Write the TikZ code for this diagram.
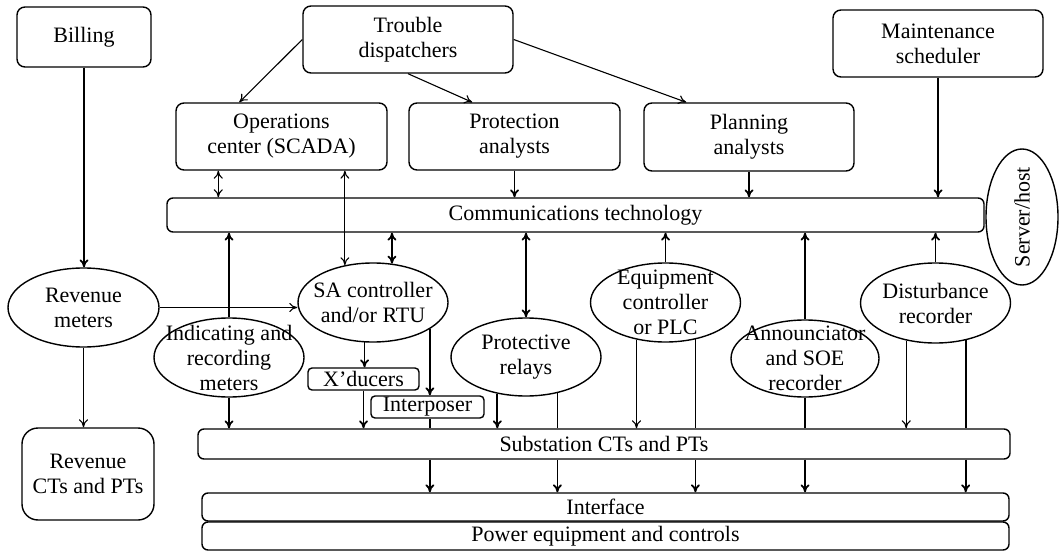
\documentclass[tikz,border=0pt]{standalone}
\usepackage{fontspec}
\setmainfont{Liberation Serif}
\usetikzlibrary{arrows.meta,shapes.geometric,calc}
\begin{document}
\begin{tikzpicture}[x=1pt,y=-1pt,
  every node/.style={font=\fontsize{22}{25}\selectfont, align=center, inner sep=0pt},
  rbox/.style={draw, line width=1.4pt, rounded corners=8pt},
  ell/.style={draw, ellipse, line width=1.4pt},
  thk/.style={line width=1.8pt},
  thn/.style={line width=1.1pt},
  tip/.style={-{To[length=8pt,width=9pt]}},
  dtip/.style={{To[length=8pt,width=9pt]}-{To[length=8pt,width=9pt]}},
]
\useasboundingbox (0,0) rectangle (1062,553);

% top boxes
\node[rbox, minimum width=134pt, minimum height=60pt] (bill) at (84,37) {Billing};
\node[rbox, minimum width=210pt, minimum height=67pt] (trb) at (408,39.5) {Trouble\\dispatchers};
\node[rbox, minimum width=211pt, minimum height=67pt] (ops) at (281.5,136.5) {Operations\\center (SCADA)};
\node[rbox, minimum width=211pt, minimum height=67pt] (prot) at (514.5,136.5) {Protection\\analysts};
\node[rbox, minimum width=210pt, minimum height=68pt] (plan) at (749,137) {Planning\\analysts};
\node[rbox, minimum width=210pt, minimum height=67pt] (mnt) at (938,43.5) {Maintenance\\scheduler};
\node[rbox, rounded corners=6pt, minimum width=817pt, minimum height=34pt] (comm) at (575.5,215) {Communications technology};

% server/host
\node[ell, minimum width=72pt, minimum height=136pt] (srv) at (1022,217) {};
\node[rotate=90] (srvt) at (srv) {Server/host};

% ellipses
\node[ell, minimum width=151pt, minimum height=79pt] (rev) at (83.5,307.5) {};
\node (revt) at (rev) {Revenue\\meters};
\node[ell, minimum width=150pt, minimum height=79pt] (ind) at (229,357.5) {};
\node (indt) at (ind) {Indicating and\\recording\\meters};
\node[ell, minimum width=150pt, minimum height=79pt] (sa) at (373,302.5) {};
\node (sat) at (sa) {SA controller\\and/or RTU};
\node[ell, minimum width=150pt, minimum height=78pt] (rel) at (526,357) {};
\node (relt) at (rel) {Protective\\relays};
\node[ell, minimum width=150pt, minimum height=79pt] (eq) at (665.5,302.5) {};
\node (eqt) at (eq) {Equipment\\controller\\or PLC};
\node[ell, minimum width=148pt, minimum height=77pt] (ann) at (805,358.5) {};
\node (annt) at (ann) {Announciator\\and SOE\\recorder};
\node[ell, minimum width=150pt, minimum height=80pt] (dist) at (935.5,303) {};
\node (distt) at (dist) {Disturbance\\recorder};

% small boxes
\node[rbox, rounded corners=4pt, minimum width=111pt, minimum height=22pt] (xd) at (363.5,379) {X'ducers};
\node[rbox, rounded corners=4pt, minimum width=113pt, minimum height=22pt] (int) at (427.5,407) {Interposer};

% bottom boxes
\node[rbox, rounded corners=16pt, minimum width=132pt, minimum height=92pt] (revct) at (88,474) {Revenue\\CTs and PTs};
\node[rbox, rounded corners=6pt, minimum width=812pt, minimum height=30pt] (sub) at (604,444) {Substation CTs and PTs};
\node[rbox, rounded corners=6pt, minimum width=807pt, minimum height=28pt] (iface) at (605.5,507) {Interface};
\node[rbox, rounded corners=6pt, minimum width=807pt, minimum height=28pt] (pow) at (605.5,536) {Power equipment and controls};

% helper coordinates on box edges
\coordinate (o1) at ($(ops.south west)+(43,0)$);
\coordinate (opsin) at ($(ops.north west)+(64,0)$);
\coordinate (protin) at ($(prot.north west)+(64,0)$);
\coordinate (planin) at ($(plan.north west)+(43,0)$);

% revenue side
\draw[thk,tip] (bill.south) -- (bill.south |- rev.north);
\draw[thn,tip] (rev.south) -- (rev.south |- revct.north);
\draw[thn,tip] (rev.east) -- (rev.east -| sa.west);

% trouble dispatchers
\draw[thn,tip] (trb.west) -- (opsin);
\draw[thn,tip] (trb.south) -- (protin);
\draw[thn,tip] (trb.east) -- (planin);

% to / from communications
\draw[thn,dtip] (o1) -- (o1 |- comm.north);
\draw[thn,dtip] (sa.127) -- (sa.127 |- ops.south);
\draw[thk,dtip] (sa.64) -- (sa.64 |- comm.south);
\draw[thk,tip] (ind.north) -- (ind.north |- comm.south);
\draw[thk,tip] (prot.south) -- (prot.south |- comm.north);
\draw[thk,dtip] (rel.north) -- (rel.north |- comm.south);
\draw[thk,tip] (plan.south) -- (plan.south |- comm.north);
\draw[thk,tip] (mnt.south) -- (mnt.south |- comm.north);
\draw[thk,tip] (eq.north) -- (eq.north |- comm.south);
\draw[thk,tip] (ann.north) -- (ann.north |- comm.south);
\draw[thk,tip] (dist.north) -- (dist.north |- comm.south);

% down to substation CTs and PTs
\draw[thk,tip] (ind.south) -- (ind.south |- sub.north);
\draw[thk,tip] (sa.258) -- (sa.258 |- xd.north);
\draw[thk,tip] (xd.south) -- (xd.south |- sub.north);
\draw[thk,tip] (sa.-25) -- (sa.-25 |- int.north);
\draw[thk] (int.south -| sa.-25) -- (sub.north -| sa.-25);
\draw[thk,tip] (rel.232) -- (rel.232 |- sub.north);
\draw[thn] (rel.-49) -- (rel.-49 |- sub.north);
\draw[thn,tip] (eq.232) -- (eq.232 |- sub.north);
\draw[thk] (eq.-51) -- (eq.-51 |- sub.north);
\draw[thk] (ann.south) -- (ann.south |- sub.north);
\draw[thn,tip] (dist.232) -- (dist.232 |- sub.north);
\draw[thk] (dist.-51) -- (dist.-51 |- sub.north);

% substation to interface
\draw[thk,tip] (sub.south -| sa.-25) -- (iface.north -| sa.-25);
\draw[thk,tip] (sub.south -| rel.-49) -- (iface.north -| rel.-49);
\draw[thk,tip] (sub.south -| eq.-51) -- (iface.north -| eq.-51);
\draw[thk,tip] (sub.south -| ann.south) -- (iface.north -| ann.south);
\draw[thk,tip] (sub.south -| dist.-51) -- (iface.north -| dist.-51);
\end{tikzpicture}
\end{document}
